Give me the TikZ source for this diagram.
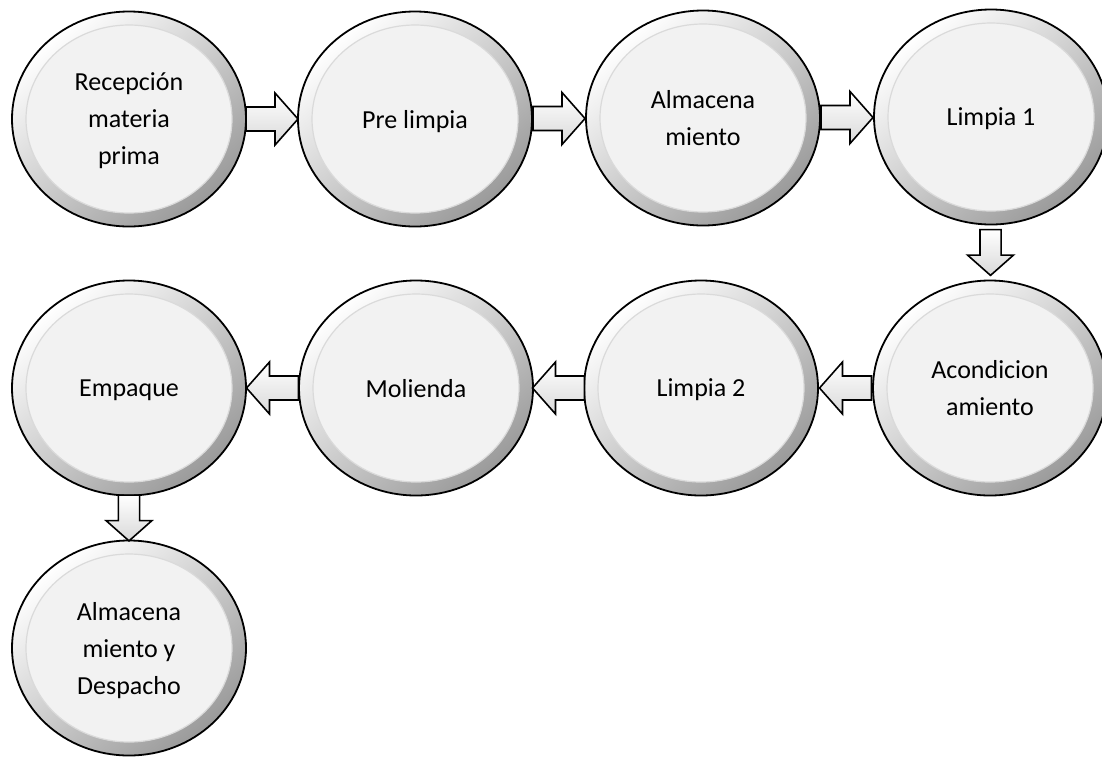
\documentclass[tikz,border=0pt]{standalone}
\usepackage{fontspec}
\setmainfont{Carlito}
\usetikzlibrary{shapes.geometric,calc}

\definecolor{ringdark}{HTML}{9A9A9A}
\definecolor{innerfill}{HTML}{F2F2F2}
\definecolor{innerrim}{HTML}{DADADA}

\tikzset{
  % bevelled process stage: shaded rim with a flat light face
  stage/.style={
    ellipse, draw=black, line width=1.8pt,
    minimum width=234pt, minimum height=215pt, inner sep=0pt,
    top color=white, bottom color=ringdark, shading angle=40,
    align=center, text=black, text depth=0pt,
    font=\fontsize{26}{37}\selectfont,
    path picture={
      \fill[innerfill] (path picture bounding box.center)
        ellipse [x radius=103pt, y radius=94pt];
      \draw[innerrim, line width=1.2pt] (path picture bounding box.center)
        ellipse [x radius=103pt, y radius=94pt];
    }
  },
  % hollow block arrow pointing along +x, centred on its position
  blockarrow/.pic={
    \shade[top color=white, bottom color=black!15, draw=black,
           line width=1.6pt, line join=miter]
      (-26,-12) -- (3,-12) -- (3,-26) -- (26,0) -- (3,26) -- (3,12)
      -- (-26,12) -- cycle;
  }
}

\begin{document}
\begin{tikzpicture}[x=1pt, y=-1pt]
  \useasboundingbox (0,0) rectangle (1102,756);

  % first row, left to right
  \node[stage] (recep)  at (129,119) {Recepción\\materia\\prima};
  \node[stage] (prelim) at (415,119) {Pre limpia};
  \node[stage] (almac)  at (703,118) {Almacena\\miento};
  \node[stage] (limp1)  at (991,117) {Limpia 1};

  % second row, right to left
  \node[stage] (acond)  at (990,388) {Acondicion\\amiento};
  \node[stage] (limp2)  at (701,388) {Limpia 2};
  \node[stage] (molie)  at (416,388) {Molienda};
  \node[stage] (empaq)  at (129,388) {Empaque};

  % last stage
  \node[stage] (despa)  at (129,648) {Almacena\\miento y\\Despacho};

  % connectors between stages
  \pic at ($(recep.east)!0.5!(prelim.west)$) {blockarrow};
  \pic at ($(prelim.east)!0.5!(almac.west)$) {blockarrow};
  \pic at ($(almac.east)!0.5!(limp1.west)$) {blockarrow};
  \pic[rotate=-90, scale=0.88] at ($(limp1.south)!0.5!(acond.north)$) {blockarrow};
  \pic[rotate=180] at ($(acond.west)!0.5!(limp2.east)$) {blockarrow};
  \pic[rotate=180] at ($(limp2.west)!0.5!(molie.east)$) {blockarrow};
  \pic[rotate=180] at ($(molie.west)!0.5!(empaq.east)$) {blockarrow};
  \pic[rotate=-90, scale=0.88] at ($(empaq.south)!0.5!(despa.north)$) {blockarrow};
\end{tikzpicture}
\end{document}
